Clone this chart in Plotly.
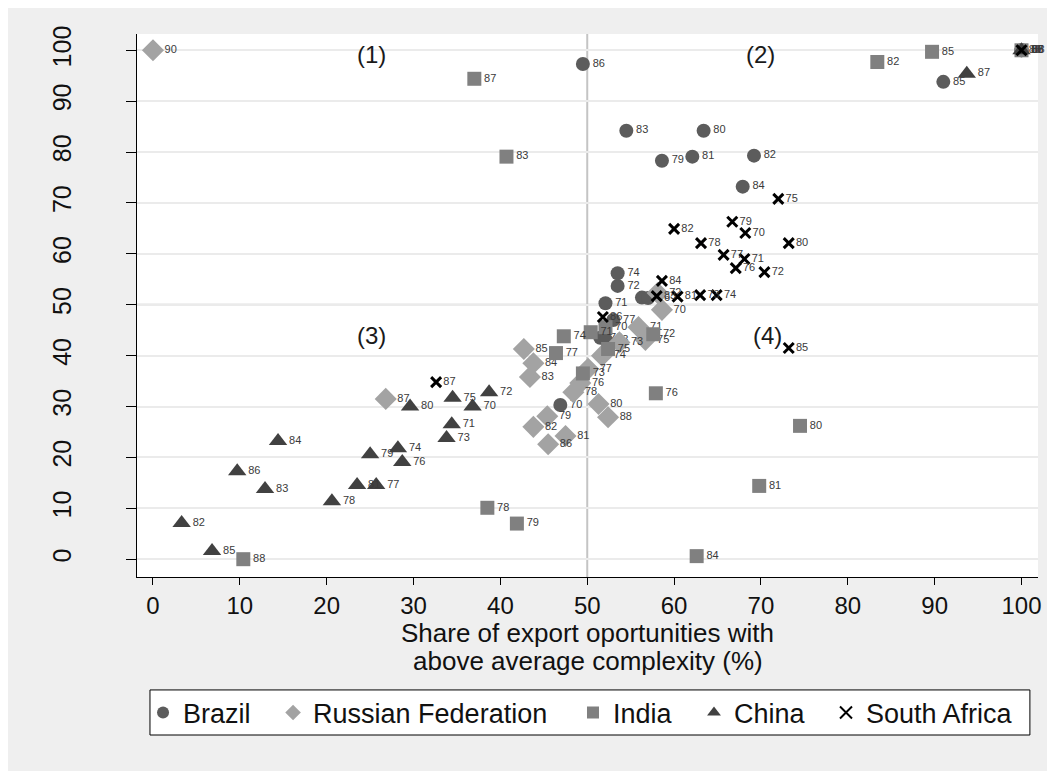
import plotly.graph_objects as go

# ---------------- data ----------------
brazil_years = [70, 71, 72, 73, 74, 75, 76, 77, 78, 79, 80, 81, 82, 83, 84, 85, 86, 87, 88]
brazil_x = [46.9, 52.1, 53.5, 51.5, 53.5, 56.3, 57.0, 53.0, 52.2, 58.6, 63.4, 62.1, 69.2, 54.5, 67.9, 91.0, 49.5, 100, 100]
brazil_y = [30.3, 50.3, 53.7, 43.5, 56.2, 51.4, 51.3, 47.0, 43.0, 78.3, 84.2, 79.1, 79.3, 84.2, 73.2, 93.8, 97.3, 100, 100]

russia_years = [70, 71, 72, 73, 74, 75, 76, 77, 78, 79, 80, 81, 82, 83, 84, 85, 86, 87, 88, 90]
russia_x = [58.6, 55.9, 58.1, 53.7, 51.7, 56.7, 49.2, 50.1, 48.4, 45.4, 51.3, 47.5, 43.8, 43.4, 43.8, 42.7, 45.5, 26.8, 52.4, 0.0]
russia_y = [49.0, 45.6, 52.3, 42.6, 40.0, 43.1, 34.6, 37.4, 32.8, 28.1, 30.5, 24.2, 26.0, 35.8, 38.5, 41.3, 22.6, 31.5, 27.9, 100]

india_years = [70, 71, 72, 73, 74, 75, 76, 77, 78, 79, 80, 81, 82, 83, 84, 85, 86, 87, 88]
india_x = [52.1, 50.4, 57.6, 49.5, 47.3, 52.4, 57.9, 46.4, 38.5, 41.9, 74.5, 69.8, 83.4, 40.7, 62.6, 89.7, 100, 37.0, 10.4]
india_y = [45.6, 44.6, 44.2, 36.5, 43.8, 41.3, 32.6, 40.5, 10.1, 7.0, 26.2, 14.4, 97.7, 79.1, 0.6, 99.7, 100, 94.4, 0.0]

china_years = [70, 71, 72, 73, 74, 75, 76, 77, 78, 79, 80, 81, 82, 83, 84, 85, 86, 87, 88]
china_x = [36.8, 34.4, 38.7, 33.8, 28.2, 34.5, 28.7, 25.7, 20.6, 25.0, 29.6, 23.5, 3.3, 12.9, 14.4, 6.8, 9.7, 93.7, 100]
china_y = [30.0, 26.5, 32.8, 23.8, 21.8, 31.7, 19.1, 14.6, 11.4, 20.6, 30.0, 14.6, 7.1, 13.8, 23.2, 1.6, 17.3, 95.4, 100]

safrica_years = [70, 71, 72, 73, 74, 75, 76, 77, 78, 79, 80, 81, 82, 83, 84, 85, 86, 87, 88]
safrica_x = [68.2, 68.1, 70.4, 63.0, 64.9, 72.0, 67.1, 65.7, 63.1, 66.7, 73.2, 60.4, 60.0, 58.0, 58.6, 73.2, 51.8, 32.6, 100]
safrica_y = [64.1, 59.0, 56.4, 51.9, 51.9, 70.8, 57.2, 59.8, 62.1, 66.3, 62.1, 51.6, 64.9, 51.7, 54.7, 41.5, 47.6, 34.8, 100]

x_ticks = [0, 10, 20, 30, 40, 50, 60, 70, 80, 90, 100]
y_ticks = [0, 10, 20, 30, 40, 50, 60, 70, 80, 90, 100]
quadrant_labels = ["(1)", "(2)", "(3)", "(4)"]
quadrant_x = [25.2, 69.9, 25.2, 70.7]
quadrant_y = [99.1, 99.1, 43.9, 43.9]
x_title_lines = ["Share of export oportunities with", "above average complexity (%)"]

# ---------------- figure ----------------
FONT = "Liberation Sans, Arial, sans-serif"
fig = go.Figure()

series = [
    ("Brazil", brazil_x, brazil_y, brazil_years, "circle", 14, "#5c5c5c", 0),
    ("Russian Federation", russia_x, russia_y, russia_years, "diamond", 17, "#a3a3a3", 0),
    ("India", india_x, india_y, india_years, "square", 14, "#808080", 0),
    ("China", china_x, china_y, china_years, "triangle-up", 16, "#414141", 0),
    ("South Africa", safrica_x, safrica_y, safrica_years, "x-thin", 10, "#000000", 3),
]
legend_ids = ["legend", "legend2", "legend3", "legend4", "legend5"]
legend_x = [0.0067, 0.151, 0.4839, 0.6182, 0.7647]

for (name, xs, ys, yrs, sym, size, col, lw), lid in zip(series, legend_ids):
    marker = dict(symbol=sym, size=size, color=col)
    marker["line"] = dict(width=lw, color=col) if lw else dict(width=0)
    fig.add_trace(go.Scatter(
        x=xs, y=ys, mode="markers+text", name=name, legend=lid,
        text=[str(v) for v in yrs], textposition="middle right",
        textfont=dict(family=FONT, size=11, color="#3a3a3a"),
        marker=marker, cliponaxis=False, hoverinfo="skip",
    ))

# reference lines at 50
fig.add_shape(type="line", xref="x", yref="paper", x0=50, x1=50, y0=0, y1=1,
              line=dict(color="#c4c4c4", width=2), layer="below")
fig.add_shape(type="line", xref="paper", yref="y", x0=0, x1=1, y0=50, y1=50,
              line=dict(color="#c4c4c4", width=2), layer="below")
# legend frame
fig.add_shape(type="rect", xref="paper", yref="paper", x0=0.0144, x1=0.991, y0=-0.291, y1=-0.208,
              line=dict(color="#000000", width=1), fillcolor="#ffffff", layer="below")

for t, qx, qy in zip(quadrant_labels, quadrant_x, quadrant_y):
    fig.add_annotation(x=qx, y=qy, xref="x", yref="y", text=t, showarrow=False,
                       font=dict(family=FONT, size=24, color="#1a1a1a"))

for t, ty in zip(x_title_lines, [-0.103, -0.155]):
    fig.add_annotation(x=0.5, y=ty, xref="paper", yref="paper", text=t, showarrow=False,
                       xanchor="center", yanchor="middle",
                       font=dict(family=FONT, size=26, color="#111111"))

legend_common = dict(orientation="h", xanchor="left", y=-0.2505, yanchor="middle",
                     bgcolor="rgba(0,0,0,0)", borderwidth=0,
                     font=dict(family=FONT, size=27, color="#111111"),
                     itemsizing="constant")
layout_legends = {lid: dict(legend_common, x=lx) for lid, lx in zip(legend_ids, legend_x)}

fig.update_layout(
    width=1055, height=771,
    margin=dict(l=129, r=25, t=26, b=202),
    paper_bgcolor="#efefef", plot_bgcolor="#ffffff",
    font=dict(family=FONT, size=24, color="#111111"),
    showlegend=True,
    **layout_legends,
)
fig.update_xaxes(range=[-1.84, 101.9], tickvals=x_ticks, showgrid=False, zeroline=False,
                 showline=True, linecolor="#000000", linewidth=1,
                 ticks="outside", ticklen=7, tickcolor="#000000",
                 tickfont=dict(family=FONT, size=24, color="#111111"))
fig.update_yaxes(range=[-3.5, 103.2], tickvals=y_ticks, showgrid=True, gridcolor="#ebebeb", gridwidth=2,
                 zeroline=False, showline=True, linecolor="#000000", linewidth=1,
                 ticks="outside", ticklen=10, tickcolor="#000000", tickangle=-90,
                 ticklabelstandoff=45,
                 tickfont=dict(family=FONT, size=25, color="#111111"))

fig.write_html("out.html")
